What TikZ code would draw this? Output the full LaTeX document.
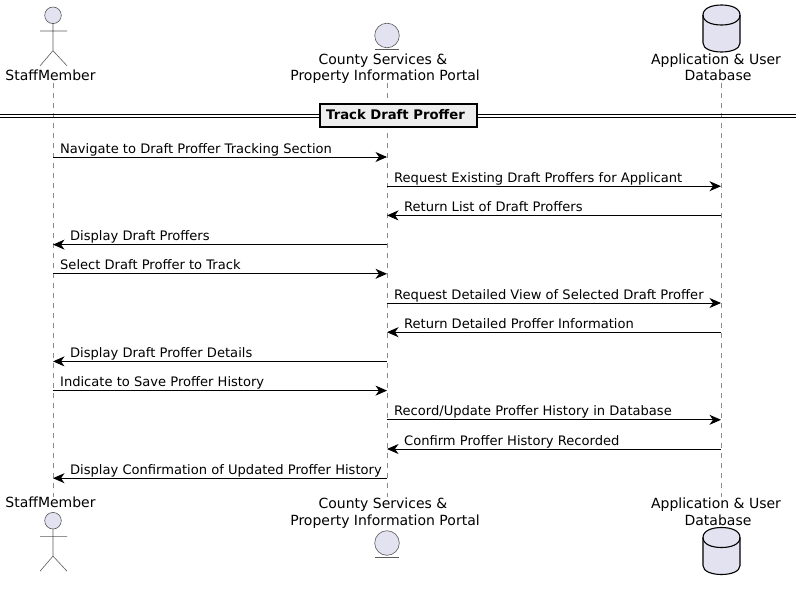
\documentclass[tikz,border=0pt]{standalone}
\usepackage{fontspec}
\setmainfont{DejaVu Sans}
\usetikzlibrary{arrows.meta,positioning}
\definecolor{partfill}{HTML}{E2E2F0}
\definecolor{partline}{HTML}{5A5A5A}
\definecolor{lifegrey}{HTML}{8A8A8A}
\definecolor{boxfill}{HTML}{EEEEEE}
\tikzset{
    lifeline/.style={
    draw=lifegrey,line width=0.7pt,dash pattern=on 5pt off 5pt
    },
    msg/.style={
    draw=black,line width=0.9pt,-{Stealth[length=11.5pt,width=10pt,inset=3.5pt]}
    },
    rightlabel/.style={
    pos=0,anchor=base west,font=\fontsize{13.08}{15}\selectfont,inner sep=0pt,xshift=6.7pt,yshift=4pt
    },
    leftlabel/.style={
    pos=1,anchor=base west,font=\fontsize{13.08}{15}\selectfont,inner sep=0pt,xshift=16.7pt,yshift=4pt
    },
    partlabel/.style={
    align=center,font=\fontsize{14}{16.5}\selectfont,inner sep=0pt,text depth=0pt
    },
    actorline/.style={
    draw=partline,line width=0.6pt
    },
    entityline/.style={
    draw=partline,line width=0.6pt,fill=partfill
    },
    dbline/.style={
    draw=black,line width=1.1pt,fill=partfill
    },
    dividerbox/.style={
    rectangle,draw=black,line width=2pt,fill=boxfill,minimum width=157pt,minimum height=23pt,
    inner sep=0pt,font=\fontsize{13.2}{15}\selectfont\bfseries
    },
}
\newcommand{\actorfig}[1]{
   \draw[actorline,fill=partfill] (53,#1) circle (8.3);
   \draw[actorline] (53,#1-8.3) -- (53,#1-35.4)
     (40,#1-15.7) -- (67,#1-15.7)
     (40,#1-50.5) -- (53,#1-35.4) -- (67,#1-50.5);
}
\newcommand{\entityfig}[1]{
   \draw[entityline] (387,#1) circle (12.3);
   \draw[actorline] (375,#1-14) -- (399,#1-14);
}
\newcommand{\dbfig}[1]{
   \draw[dbline] (703,#1-10) -- (703,#1-38) .. controls (703,#1-44) and (712,#1-47) .. (721.5,#1-47)
     .. controls (731,#1-47) and (740,#1-44) .. (740,#1-38) -- (740,#1-10)
     .. controls (740,#1-3) and (731,#1) .. (721.5,#1) .. controls (712,#1) and (703,#1-3) .. (703,#1-10) -- cycle;
   \draw[dbline,fill=none] (703,#1-10) .. controls (703,#1-17) and (712,#1-20) .. (721.5,#1-20)
     .. controls (731,#1-20) and (740,#1-17) .. (740,#1-10);
}
\begin{document}
\begin{tikzpicture}[x=1pt,y=1pt]
   \useasboundingbox (0,0) rectangle (802,-589);

   % lifelines
   \coordinate (staffTop) at (53,-83);
   \coordinate (staffEnd) at (53,-497);
   \coordinate (portalTop) at (387,-83);
   \coordinate (portalEnd) at (387,-497);
   \coordinate (dbTop) at (721,-83);
   \coordinate (dbEnd) at (721,-497);
   \path[lifeline] (staffTop) -- (staffEnd);
   \path[lifeline] (portalTop) -- (portalEnd);
   \path[lifeline] (dbTop) -- (dbEnd);

   % participants
   \actorfig{-15.3}
   \actorfig{-520.7}
   \entityfig{-35.5}
   \entityfig{-543}
   \dbfig{-5}
   \dbfig{-527.5}
   \node[partlabel] (staffA) at (50.5,-75) {StaffMember};
   \node[partlabel] (portalA) at (385,-67) {County Services \&\hspace*{4pt}\\Property Information Portal};
   \node[partlabel] (dbA) at (716,-67) {Application \& User\\\hspace*{4pt}Database};
   \node[partlabel] (staffB) at (50.5,-502.6) {StaffMember};
   \node[partlabel] (portalB) at (385,-511.6) {County Services \&\hspace*{4pt}\\Property Information Portal};
   \node[partlabel] (dbB) at (716,-511.6) {Application \& User\\\hspace*{4pt}Database};

   % divider
   \coordinate (divL) at (0,-116);
   \coordinate (divR) at (796,-116);
   \path[draw=black,line width=1pt] ([yshift=1.4pt]divL) -- ([yshift=1.4pt]divR)
     ([yshift=-1.4pt]divL) -- ([yshift=-1.4pt]divR);
   \node[dividerbox] (track) at (398,-115) {Track Draft Proffer\hspace*{5pt}};

   % message ends
   \foreach \i in {1,...,12} {
     \coordinate (s\i) at (53,{-157-29.2*(\i-1)});
     \coordinate (p\i) at (387,{-157-29.2*(\i-1)});
     \coordinate (d\i) at (721,{-157-29.2*(\i-1)});
   }

   \path[every edge/.style={msg}]
    (s1) edge node[rightlabel] {Navigate to Draft Proffer Tracking Section} (p1)
    (p2) edge node[rightlabel] {Request Existing Draft Proffers for Applicant} (d2)
    (d3) edge node[leftlabel] {Return List of Draft Proffers} (p3)
    (p4) edge node[leftlabel] {Display Draft Proffers} (s4)
    (s5) edge node[rightlabel] {Select Draft Proffer to Track} (p5)
    (p6) edge node[rightlabel] {Request Detailed View of Selected Draft Proffer} (d6)
    (d7) edge node[leftlabel] {Return Detailed Proffer Information} (p7)
    (p8) edge node[leftlabel] {Display Draft Proffer Details} (s8)
    (s9) edge node[rightlabel] {Indicate to Save Proffer History} (p9)
    (p10) edge node[rightlabel] {Record/Update Proffer History in Database} (d10)
    (d11) edge node[leftlabel] {Confirm Proffer History Recorded} (p11)
    (p12) edge node[leftlabel] {Display Confirmation of Updated Proffer History} (s12);
\end{tikzpicture}
\end{document}
